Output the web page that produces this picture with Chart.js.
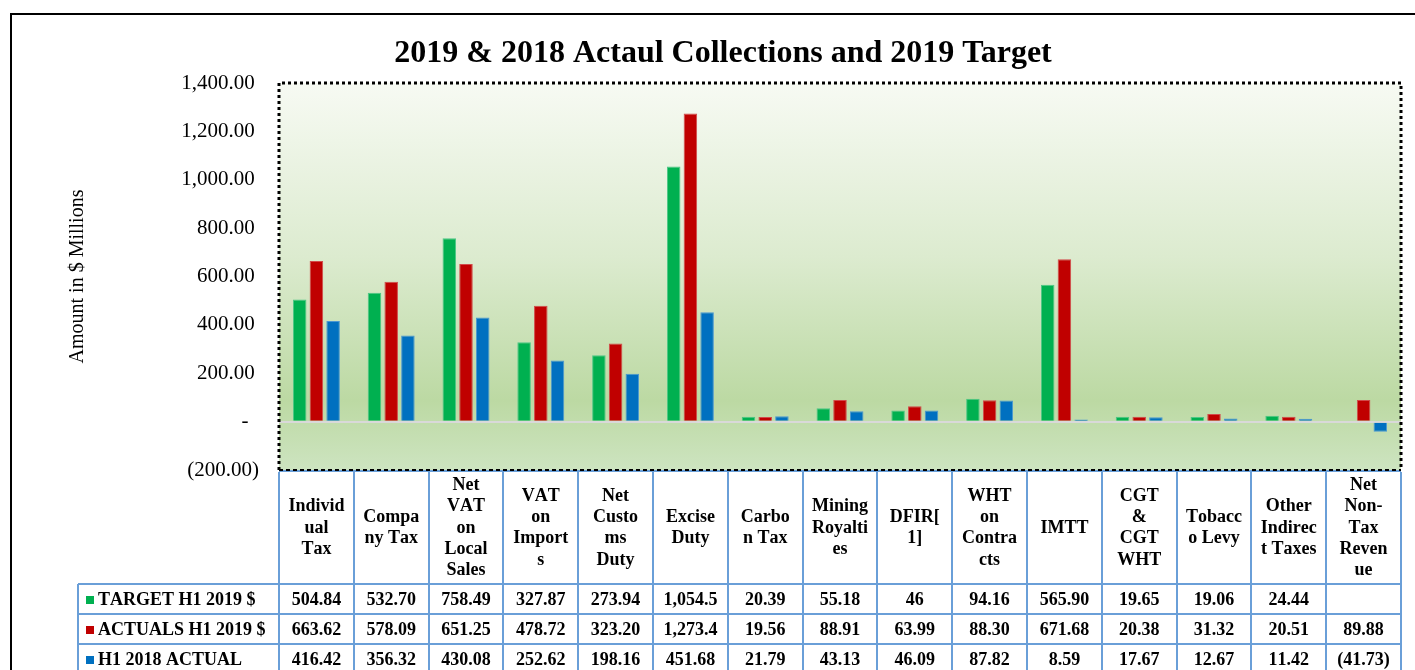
<!DOCTYPE html>
<html>
<head>
<meta charset="utf-8">
<script src="https://cdn.jsdelivr.net/npm/chart.js@4.4.1/dist/chart.umd.min.js"></script>
<style>
  html, body { margin: 0; padding: 0; background: #ffffff; }
  #wrap { position: relative; width: 1415px; height: 670px; }
  canvas { display: block; }
</style>
</head>
<body>
<div id="wrap"><canvas id="c" width="1415" height="670"></canvas></div>
<script>
const chartTitle = "2019 & 2018 Actaul Collections and 2019 Target";
const yAxisTitle = "Amount in $ Millions";
const categories = ["Individual Tax", "Company Tax", "Net VAT on Local Sales", "VAT on Imports",
  "Net Customs Duty", "Excise Duty", "Carbon Tax", "Mining Royalties", "DFIR[1]",
  "WHT on Contracts", "IMTT", "CGT & CGT WHT", "Tobacco Levy", "Other Indirect Taxes",
  "Net Non-Tax Revenue"];
const seriesNames = ["TARGET H1 2019 $", "ACTUALS H1 2019 $", "H1 2018 ACTUAL"];
const target2019 = [504.84, 532.70, 758.49, 327.87, 273.94, 1054.5, 20.39, 55.18, 46, 94.16, 565.90, 19.65, 19.06, 24.44, null];
const actual2019 = [663.62, 578.09, 651.25, 478.72, 323.20, 1273.4, 19.56, 88.91, 63.99, 88.30, 671.68, 20.38, 31.32, 20.51, 89.88];
const actual2018 = [416.42, 356.32, 430.08, 252.62, 198.16, 451.68, 21.79, 43.13, 46.09, 87.82, 8.59, 17.67, 12.67, 11.42, -41.73];
const yMin = -200, yMax = 1400, yStep = 200;
const seriesColors = ["#00b050", "#c00000", "#0070c0"];
const seriesBorders = ["#4cc785", "#d24a4a", "#4a97d2"];

const FONT = "'Liberation Serif', 'Times New Roman', serif";

function fmtCell(v) {
  if (v === null || v === undefined) return "";
  const a = Math.abs(v);
  let s;
  if (Number.isInteger(v)) s = String(a);
  else if (a >= 1000) s = a.toLocaleString('en-US', {minimumFractionDigits: 1, maximumFractionDigits: 1});
  else s = a.toLocaleString('en-US', {minimumFractionDigits: 2, maximumFractionDigits: 2});
  return v < 0 ? "(" + s + ")" : s;
}
function fmtTick(v) {
  if (v === 0) return "-  ";
  const s = Math.abs(v).toLocaleString('en-US', {minimumFractionDigits: 2, maximumFractionDigits: 2});
  return v < 0 ? "(" + s + ")" : s + "\u2009";
}

function wrapText(ctx, text, maxW) {
  const words = text.split(" ");
  const lines = [];
  let line = "";
  for (const word of words) {
    const cand = line ? line + " " + word : word;
    if (ctx.measureText(cand).width <= maxW) { line = cand; continue; }
    if (line) lines.push(line);
    line = "";
    if (ctx.measureText(word).width <= maxW) { line = word; continue; }
    let rest = word;
    while (ctx.measureText(rest).width > maxW) {
      let cut = -1;
      const h = rest.indexOf("-");
      if (h >= 0 && h < rest.length - 1 && ctx.measureText(rest.slice(0, h + 1)).width <= maxW) {
        cut = h + 1;
      } else {
        cut = 1;
        for (let k = 1; k <= rest.length; k++) {
          if (ctx.measureText(rest.slice(0, k)).width <= maxW) cut = k; else break;
        }
      }
      lines.push(rest.slice(0, cut));
      rest = rest.slice(cut);
    }
    line = rest;
  }
  if (line) lines.push(line);
  return lines;
}

const decorPlugin = {
  id: 'decor',
  beforeDraw(chart) {
    const {ctx, chartArea: a} = chart;
    ctx.save();
    ctx.strokeStyle = "#000000";
    ctx.lineWidth = 2;
    ctx.strokeRect(11, 14, 1420, 700);
    const g = ctx.createLinearGradient(0, a.top, 0, a.bottom);
    g.addColorStop(0, "#f7faf3");
    g.addColorStop(0.45, "#dcebcf");
    g.addColorStop(0.82, "#bcd9a3");
    g.addColorStop(1, "#cde4c0");
    ctx.fillStyle = g;
    ctx.fillRect(a.left, a.top, a.right - a.left, a.bottom - a.top);
    ctx.fillStyle = "#000000";
    ctx.font = "bold 32px " + FONT;
    ctx.textAlign = "center";
    ctx.textBaseline = "middle";
    ctx.fillText(chartTitle, 723, 54);
    ctx.restore();
  },
  afterDraw(chart) {
    const {ctx, chartArea: a} = chart;
    const xs = chart.scales.x;
    const n = categories.length;
    const colW = (a.right - a.left) / n;
    const headTop = a.bottom + 2;
    const headBot = 584;
    const rowH = 30;
    const legendLeft = 78;
    const blue = "#6a9fd8";
    ctx.save();
    ctx.strokeStyle = blue;
    ctx.lineWidth = 2;
    ctx.beginPath();
    ctx.moveTo(a.left, a.bottom + 1); ctx.lineTo(a.right, a.bottom + 1);
    for (let i = 0; i <= n; i++) {
      const x = Math.round(a.left + i * colW);
      ctx.moveTo(x, headTop); ctx.lineTo(x, 680);
    }
    ctx.moveTo(legendLeft, headBot); ctx.lineTo(legendLeft, 680);
    for (let r = 0; r < 3; r++) {
      const y = headBot + r * rowH;
      ctx.moveTo(legendLeft, y); ctx.lineTo(a.right, y);
    }
    ctx.stroke();
    ctx.fillStyle = "#000000";
    ctx.font = "bold 18px " + FONT;
    if ('fontKerning' in ctx) ctx.fontKerning = "none";
    ctx.textAlign = "center";
    ctx.textBaseline = "middle";
    const lh = 21.3;
    categories.forEach((c, i) => {
      const cx = xs.getPixelForValue(i);
      const lines = wrapText(ctx, c, 57);
      const cy = (headTop + headBot) / 2;
      const y0 = cy - (lines.length - 1) * lh / 2;
      lines.forEach((ln, k) => ctx.fillText(ln, cx, y0 + k * lh));
    });
    const rows = [target2019, actual2019, actual2018];
    rows.forEach((vals, r) => {
      const cy = headBot + r * rowH + rowH / 2 + 1;
      ctx.textAlign = "center";
      vals.forEach((v, i) => ctx.fillText(fmtCell(v), xs.getPixelForValue(i), cy));
      ctx.fillStyle = seriesColors[r];
      ctx.fillRect(86, cy - 4, 8, 8);
      ctx.fillStyle = "#000000";
      ctx.textAlign = "left";
      ctx.fillText(seriesNames[r], 98, cy);
    });
    ctx.strokeStyle = "#000000";
    ctx.lineWidth = 3;
    ctx.setLineDash([3, 3]);
    ctx.beginPath();
    ctx.moveTo(a.left, a.bottom); ctx.lineTo(a.left, a.top); ctx.lineTo(a.right, a.top); ctx.lineTo(a.right, a.bottom);
    ctx.stroke();
    ctx.lineWidth = 2;
    ctx.setLineDash([4, 3]);
    ctx.beginPath();
    ctx.moveTo(a.left, a.bottom); ctx.lineTo(a.right, a.bottom);
    ctx.stroke();
    ctx.restore();
  }
};

const datasets = [target2019, actual2019, actual2018].map((d, i) => ({
  label: seriesNames[i],
  data: d,
  backgroundColor: seriesColors[i],
  borderColor: seriesBorders[i],
  borderWidth: 1,
  barPercentage: 0.81,
  categoryPercentage: 0.67
}));

new Chart(document.getElementById('c'), {
  type: 'bar',
  data: { labels: categories, datasets },
  options: {
    responsive: false,
    animation: false,
    devicePixelRatio: 1,
    layout: { padding: { left: 0, top: 83, right: 14, bottom: 200 } },
    plugins: { legend: { display: false }, title: { display: false }, tooltip: { enabled: false } },
    scales: {
      x: { display: false },
      y: {
        min: yMin, max: yMax,
        afterFit(scale) { scale.width = 279; },
        ticks: {
          stepSize: yStep,
          padding: 20,
          color: "#000000",
          font: { family: FONT, size: 21 },
          callback: (v) => fmtTick(v)
        },
        grid: {
          drawTicks: false,
          color: (ctx) => (ctx.tick && ctx.tick.value === 0) ? "#d9d9d9" : "rgba(0,0,0,0)",
          lineWidth: 2
        },
        border: { display: false },
        title: {
          display: true,
          text: yAxisTitle,
          color: "#000000",
          font: { family: FONT, size: 20 },
          padding: { top: 66, bottom: 0 }
        }
      }
    }
  },
  plugins: [decorPlugin]
});
</script>
</body>
</html>
